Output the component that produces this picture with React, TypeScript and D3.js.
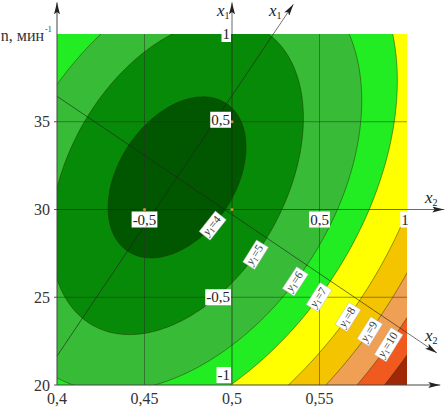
import React from "react";
import * as d3 from "d3";

const W = 446;
const H = 407;

// value axes
const xDomain = [0.4, 0.6];
const yDomain = [20, 40];
const xTickValues = [0.4, 0.45, 0.5, 0.55];
const xTickLabels = ["0,4", "0,45", "0,5", "0,55"];
const yTickValues = [20, 25, 30, 35];
const yTickLabels = ["20", "25", "30", "35"];
const gridXValues = [0.45, 0.55];
const gridYValues = [25, 35];

// coded axes (x1 vertical, x2 horizontal)
const codedOrigin = [0.5, 30];
const codedStep = [0.1, 10];
const x1CodedTicks = [1, 0.5, -0.5, -1];
const x1CodedLabels = ["1", "0,5", "-0,5", "-1"];
const x2CodedTicks = [-0.5, 0.5, 1];
const x2CodedLabels = ["-0,5", "0,5", "1"];

// canonical form: elliptic contours of the response y1
const ellipseCenter = [0.4686, 31.83];
const canonAngleDeg = -33.97;
const levels = [4, 5, 6, 7, 8, 9, 10, 11];
const levelRadii = [0.331, 0.617, 0.88, 1.057, 1.257, 1.406, 1.537, 1.657];
const levelRatios = [1.53, 1.574, 1.515, 1.53, 1.53, 1.53, 1.53, 1.53];
const levelAngles = [-33.97, -30, -33.97, -33.97, -33.97, -33.97, -33.97, -33.97];
const levelShifts = [0, 0, 0.015, 0, 0, 0, 0, 0];
const bandColors = [
  "#005700",
  "#078a07",
  "#38bc38",
  "#22ec22",
  "#ffff00",
  "#f5c400",
  "#f0a055",
  "#f05a1e",
  "#a02808",
];
const labelledLevels = [4, 5, 6, 7, 8, 9, 10];
const labelOffset = -0.114;
const canonX2Extent = [-0.827, 1.79];
const canonX1Extent = [-1.228, 1.19];
const arrowTopN = 41.8;
const arrowRightX = 0.619;

const x = d3.scaleLinear().domain(xDomain).range([57, 407]);
const y = d3.scaleLinear().domain(yDomain).range([385, 34]);

const dir = (deg: number) => {
  const a = (deg * Math.PI) / 180;
  return [Math.cos(a), Math.sin(a)];
};
const eA = dir(canonAngleDeg);
const eB = [-eA[1], eA[0]];
const cu = (ellipseCenter[0] - codedOrigin[0]) / codedStep[0];
const cv = (ellipseCenter[1] - codedOrigin[1]) / codedStep[1];

const toData = (u: number, v: number): [number, number] => [
  codedOrigin[0] + codedStep[0] * u,
  codedOrigin[1] + codedStep[1] * v,
];
const px = (u: number, v: number): [number, number] => {
  const [dx, dy] = toData(u, v);
  return [x(dx), y(dy)];
};

const ellCoded = (i: number, t: number): [number, number] => {
  const ea = dir(levelAngles[i]);
  const eb = [-ea[1], ea[0]];
  const r = levelRadii[i];
  const R = r * levelRatios[i];
  const ccu = cu + levelShifts[i] * eA[0];
  const ccv = cv + levelShifts[i] * eA[1];
  const a = r * Math.cos(t);
  const b = R * Math.sin(t);
  return [ccu + a * ea[0] + b * eb[0], ccv + a * ea[1] + b * eb[1]];
};

const ellipsePts = (i: number): [number, number][] =>
  d3.range(0, 240).map((k) => {
    const [u, v] = ellCoded(i, (2 * Math.PI * k) / 240);
    return toData(u, v);
  });

const lineGen = d3
  .line<[number, number]>()
  .x((d) => x(d[0]))
  .y((d) => y(d[1]))
  .curve(d3.curveLinearClosed);

const serif = "'Liberation Serif', 'Times New Roman', 'DejaVu Serif', serif";

const charW = (s: string, size: number) =>
  s.split("").reduce((acc, c) => {
    if (c === ",") return acc + 0.25 * size;
    if (c === "-") return acc + 0.333 * size;
    if (c === "=") return acc + 0.564 * size;
    return acc + 0.5 * size;
  }, 0);

export default function App() {
  const plotX0 = x(xDomain[0]);
  const plotX1 = x(xDomain[1]);
  const plotY0 = y(yDomain[1]);
  const plotY1 = y(yDomain[0]);
  const ox = x(codedOrigin[0]);
  const oy = y(codedOrigin[1]);

  const aStart = px(cu + canonX2Extent[0] * eA[0], cv + canonX2Extent[0] * eA[1]);
  const aEnd = px(cu + canonX2Extent[1] * eA[0], cv + canonX2Extent[1] * eA[1]);
  const bStart = px(cu + canonX1Extent[0] * eB[0], cv + canonX1Extent[0] * eB[1]);
  const bEnd = px(cu + canonX1Extent[1] * eB[0], cv + canonX1Extent[1] * eB[1]);

  const contourLabels = labelledLevels.map((lv) => {
    const i = levels.indexOf(lv);
    let best = 0;
    let bestErr = Infinity;
    for (let k = 0; k < 3600; k++) {
      const t = (2 * Math.PI * k) / 3600;
      const [u, v] = ellCoded(i, t);
      const ga = (u - cu) * eA[0] + (v - cv) * eA[1];
      const gb = (u - cu) * eB[0] + (v - cv) * eB[1];
      if (ga <= 0) continue;
      const err = Math.abs(gb - labelOffset);
      if (err < bestErr) {
        bestErr = err;
        best = t;
      }
    }
    const [u, v] = ellCoded(i, best);
    const [u2, v2] = ellCoded(i, best + 0.001);
    let du = u2 - u;
    let dv = v2 - v;
    if (du < 0) {
      du = -du;
      dv = -dv;
    }
    const [lx, ly] = px(u, v);
    const rot = (Math.atan2(-dv, du) * 180) / Math.PI - 4;
    return { lv, lx, ly, rot };
  });

  const txt = { fontFamily: serif };

  return (
    <svg
      width={W}
      height={H}
      style={{ position: "absolute", left: 0, top: 0, background: "#fff", fontFamily: serif }}
    >
      <defs>
        <clipPath id="plotClip">
          <rect x={plotX0} y={plotY0} width={plotX1 - plotX0} height={plotY1 - plotY0} />
        </clipPath>
        <marker
          id="arr"
          viewBox="0 0 12 6"
          refX="12"
          refY="3"
          markerWidth="12"
          markerHeight="6"
          markerUnits="userSpaceOnUse"
          orient="auto"
        >
          <path d="M0,0 L12,3 L0,6 L2.5,3 Z" fill="#222" />
        </marker>
      </defs>

      <g clipPath="url(#plotClip)">
        <rect
          x={plotX0}
          y={plotY0}
          width={plotX1 - plotX0}
          height={plotY1 - plotY0}
          fill={bandColors[bandColors.length - 1]}
        />
        {levels
          .map((lv, i) => ({ lv, i }))
          .reverse()
          .map(({ lv, i }) => (
            <path
              key={lv}
              d={lineGen(ellipsePts(i)) || ""}
              fill={bandColors[i]}
              stroke="#1e2a00"
              strokeOpacity={0.5}
              strokeWidth={0.9}
            />
          ))}
        {gridXValues.map((v) => (
          <line key={"gx" + v} x1={x(v)} x2={x(v)} y1={plotY0} y2={plotY1} stroke="#2a2a2a" strokeOpacity={0.55} strokeWidth={0.9} />
        ))}
        {gridYValues.map((v) => (
          <line key={"gy" + v} x1={plotX0} x2={plotX1} y1={y(v)} y2={y(v)} stroke="#2a2a2a" strokeOpacity={0.55} strokeWidth={0.9} />
        ))}
      </g>

      {yTickValues.map((v) => (
        <line key={"yt" + v} x1={plotX0 - 3} x2={plotX0} y1={y(v)} y2={y(v)} stroke="#444" strokeWidth={0.9} />
      ))}

      <line x1={ox} x2={ox} y1={plotY1} y2={y(arrowTopN)} stroke="#222" strokeOpacity={0.75} strokeWidth={0.9} markerEnd="url(#arr)" />
      <line x1={plotX0} x2={x(arrowRightX) + 4} y1={oy} y2={oy} stroke="#222" strokeOpacity={0.75} strokeWidth={0.9} markerEnd="url(#arr)" />

      <line x1={aStart[0]} y1={aStart[1]} x2={aEnd[0]} y2={aEnd[1]} stroke="#222" strokeOpacity={0.7} strokeWidth={0.9} markerEnd="url(#arr)" />
      <line x1={bStart[0]} y1={bStart[1]} x2={bEnd[0]} y2={bEnd[1]} stroke="#222" strokeOpacity={0.7} strokeWidth={0.9} markerEnd="url(#arr)" />

      <line x1={plotX0} x2={plotX0} y1={plotY1} y2={y(arrowTopN)} stroke="#444" strokeWidth={1} markerEnd="url(#arr)" />
      <line x1={plotX0} x2={x(arrowRightX)} y1={plotY1} y2={plotY1} stroke="#444" strokeWidth={1} markerEnd="url(#arr)" />

      {[
        [-0.5, 0],
        [0, 0],
        [0, 0.5],
      ].map(([u, v], i) => {
        const [cx, cy] = px(u, v);
        return <circle key={"od" + i} cx={cx} cy={cy} r={1.6} fill="#d08a3a" />;
      })}

      {xTickValues.map((v, i) => (
        <text key={"xl" + v} x={x(v)} y={404} textAnchor="middle" fontSize={16} fill="#333" style={txt}>
          {xTickLabels[i]}
        </text>
      ))}
      {yTickValues.map((v, i) => (
        <text key={"yl" + v} x={50} y={y(v) + 5.5} textAnchor="end" fontSize={16} fill="#333" style={txt}>
          {yTickLabels[i]}
        </text>
      ))}
      <text x={44} y={41} textAnchor="end" fontSize={16} fill="#333" style={txt}>
        n, мин
      </text>
      <text x={45} y={32} fontSize={8} fill="#333" style={txt}>
        -1
      </text>

      {x1CodedTicks.map((t, i) => {
        const lab = x1CodedLabels[i];
        const w = charW(lab, 15);
        let cyy = y(codedOrigin[1] + t * codedStep[1]);
        if (t === -1) cyy -= 10;
        if (t === 0.5) cyy -= 2;
        const xr = ox - 2;
        return (
          <g key={"c1" + t}>
            <rect x={xr - w - 1} y={cyy - 8} width={w + 2} height={16} fill="#fff" />
            <text x={xr} y={cyy + 5} textAnchor="end" fontSize={15} fill="#222" style={txt}>
              {lab}
            </text>
          </g>
        );
      })}
      {x2CodedTicks.map((t, i) => {
        const lab = x2CodedLabels[i];
        const w = charW(lab, 15);
        let cxx = x(codedOrigin[0] + t * codedStep[0]);
        if (t === 1) cxx -= 2;
        return (
          <g key={"c2" + t}>
            <rect x={cxx - w / 2 - 1} y={oy + 2} width={w + 2} height={16} fill="#fff" />
            <text x={cxx} y={oy + 15} textAnchor="middle" fontSize={15} fill="#222" style={txt}>
              {lab}
            </text>
          </g>
        );
      })}

      {contourLabels.map(({ lv, lx, ly, rot }) => {
        const s = 11.5;
        const w = charW("y1=" + lv, s) - 0.15 * s + 4;
        return (
          <g key={"cl" + lv} transform={`translate(${lx},${ly}) rotate(${rot})`}>
            <rect x={-w / 2} y={-7} width={w} height={14} fill="#fff" stroke="#aaa" strokeWidth={0.4} />
            <text x={-w / 2 + 2} y={3} fontSize={s} fill="#333" style={txt}>
              <tspan fontStyle="italic">y</tspan>
              <tspan fontSize={7.5} dy={2}>1</tspan>
              <tspan dy={-2}>={lv}</tspan>
            </text>
          </g>
        );
      })}

      <text x={217} y={16} fontSize={17} fontStyle="italic" fill="#222" style={txt}>
        x<tspan fontSize={10} fontStyle="normal" dy={3}>1</tspan>
      </text>
      <text x={269} y={16} fontSize={17} fontStyle="italic" fill="#222" style={txt}>
        x<tspan fontSize={10} fontStyle="normal" dy={3}>1</tspan>
      </text>
      <text x={425} y={203} fontSize={17} fontStyle="italic" fill="#222" style={txt}>
        x<tspan fontSize={10} fontStyle="normal" dy={3}>2</tspan>
      </text>
      <text x={425} y={341} fontSize={17} fontStyle="italic" fill="#222" style={txt}>
        x<tspan fontSize={10} fontStyle="normal" dy={3}>2</tspan>
      </text>
    </svg>
  );
}
